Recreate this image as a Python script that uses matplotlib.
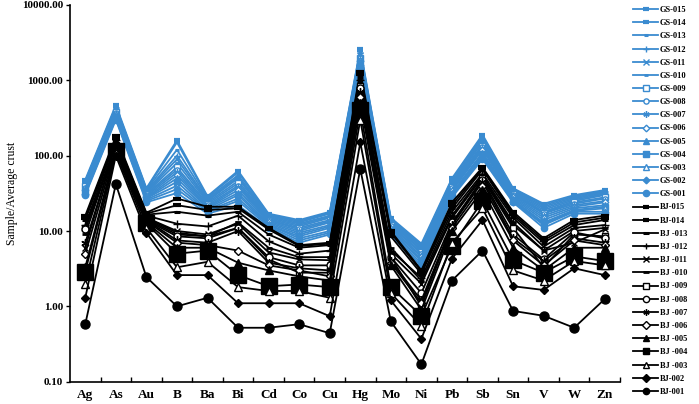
import matplotlib
matplotlib.use("Agg")
import matplotlib.pyplot as plt
from matplotlib.ticker import FixedLocator, FixedFormatter, NullLocator

plt.rcParams['font.family'] = ['Liberation Serif', 'DejaVu Serif']

elements = ["Ag", "As", "Au", "B", "Ba", "Bi", "Cd", "Co", "Cu", "Hg",
            "Mo", "Ni", "Pb", "Sb", "Sn", "V", "W", "Zn"]

gs_015 = [48, 470, 37, 160, 29, 63, 17, 14, 18, 2600, 15, 6.8, 50, 190, 37, 23, 30, 35]
gs_014 = [46, 450, 36, 150, 28, 60, 16.5, 13.5, 17.5, 2500, 14.5, 6.5, 48, 180, 36, 22, 29, 34]
gs_013 = [45, 430, 35, 120, 27, 55, 16, 13, 17, 2400, 14, 6.2, 45, 170, 35, 21, 28, 33]
gs_012 = [43, 420, 34, 100, 26, 52, 15.5, 12.5, 16, 2300, 13.5, 6.0, 43, 160, 34, 20, 27, 32]
gs_011 = [42, 400, 33, 90, 25, 50, 15, 12, 15.5, 2200, 13, 5.7, 42, 150, 33, 19, 26, 31]
gs_010 = [40, 390, 32, 80, 24, 46, 14.5, 11.5, 15, 2100, 12.5, 5.5, 40, 140, 32, 18, 25, 30]
gs_009 = [39, 380, 31, 70, 23, 43, 14, 11, 14, 2000, 12, 5.2, 38, 135, 31, 17.5, 24, 28]
gs_008 = [37, 370, 30, 65, 22, 40, 14, 10.5, 13.5, 1950, 11.5, 5.0, 37, 130, 30, 17, 23, 27]
gs_007 = [36, 360, 29, 60, 21, 38, 13.5, 10, 13, 1900, 11, 4.7, 35, 125, 29, 16, 22, 25]
gs_006 = [35, 350, 28, 55, 20.5, 35, 13, 9.5, 12, 1800, 10.5, 4.5, 34, 120, 28, 15, 21, 24]
gs_005 = [34, 340, 27.5, 50, 20, 32, 12.5, 9, 11.5, 1750, 10, 4.2, 32, 110, 27, 14, 20, 22]
gs_004 = [33, 330, 27, 45, 19, 30, 12, 8.5, 11, 1700, 10, 4.0, 31, 105, 26, 13, 19, 21]
gs_003 = [32, 320, 26, 40, 18.5, 27, 12, 8, 10, 1650, 9.5, 3.7, 30, 100, 25, 12.5, 18.5, 20]
gs_002 = [31, 310, 25, 36, 18, 25, 11.5, 7.5, 9.5, 1600, 9.2, 3.4, 29, 95, 24.5, 12, 18, 18]
gs_001 = [30, 300, 24, 32, 17, 22, 11, 7, 9, 1500, 9, 3.1, 28, 90, 24, 11, 17, 17]

bj_015 = [16, 180, 17.5, 27, 21, 21, 11, 6.5, 7, 1300, 10, 3.0, 24, 70, 18, 8, 14, 16]
bj_014 = [15, 170, 17, 22, 19, 20, 10.5, 6.3, 6.8, 1200, 9.5, 2.9, 22, 68, 17, 7.5, 13, 15]
bj_013 = [14, 165, 16.5, 18, 16, 18, 9, 6, 6.5, 1100, 8.5, 2.7, 20, 65, 16, 7, 12, 14]
bj_012 = [12, 160, 16, 12.5, 11.5, 16, 7.3, 5, 5.5, 1000, 5.5, 2.4, 18, 58, 15, 6.2, 11, 12]
bj_011 = [6, 150, 15, 10, 9, 12.5, 5.2, 4.2, 4.1, 950, 5, 2.0, 15, 52, 12, 5.5, 7, 10.5]
bj_010 = [9, 145, 15, 9.5, 8.5, 13, 6, 4.5, 4.5, 900, 6, 2.2, 16, 55, 13, 5.5, 10, 11]
bj_009 = [11, 140, 14.5, 9, 8.5, 11, 4.2, 2.8, 2.8, 850, 4.5, 1.0, 12, 50, 11, 3.3, 9, 8.5]
bj_008 = [10.5, 135, 14, 8.5, 8, 11, 4.5, 3.5, 3.5, 800, 4.5, 1.5, 13, 48, 9, 4.2, 9.6, 8]
bj_007 = [7, 130, 14, 7.5, 7, 10, 3.8, 3.2, 3.0, 700, 4, 1.2, 12, 45, 8, 4, 8, 7]
bj_006 = [5, 125, 13.5, 7, 6.5, 5.5, 3.5, 3.0, 2.5, 600, 3.8, 1.1, 11, 40, 7.5, 3.5, 7.5, 6.5]
bj_005 = [3.3, 120, 13, 6, 6, 3.8, 3.0, 2.5, 2.2, 500, 3.5, 0.9, 10, 35, 6, 3, 6, 6]
bj_004 = [2.9, 115, 12.6, 5.0, 5.5, 2.6, 1.85, 1.95, 1.8, 400, 1.8, 0.75, 6.3, 25, 4.1, 2.8, 4.6, 4.0]
bj_003 = [2.0, 110, 11, 3.3, 3.9, 1.8, 1.6, 1.6, 1.3, 300, 1.5, 0.55, 7, 20, 3.0, 2.2, 4.0, 3.5]
bj_002 = [1.3, 100, 9.5, 2.6, 2.6, 1.1, 1.1, 1.1, 0.74, 150, 1.2, 0.37, 4.3, 14, 1.85, 1.65, 3.2, 2.6]
bj_001 = [0.58, 42, 2.45, 1.0, 1.3, 0.52, 0.52, 0.58, 0.44, 67, 0.63, 0.17, 2.2, 5.5, 0.87, 0.75, 0.52, 1.25]

gs_series = [("GS-015", gs_015), ("GS-014", gs_014), ("GS-013", gs_013), ("GS-012", gs_012),
             ("GS-011", gs_011), ("GS-010", gs_010), ("GS-009", gs_009), ("GS-008", gs_008),
             ("GS-007", gs_007), ("GS-006", gs_006), ("GS-005", gs_005), ("GS-004", gs_004),
             ("GS-003", gs_003), ("GS-002", gs_002), ("GS-001", gs_001)]
bj_series = [("BJ-015", bj_015), ("BJ-014", bj_014), ("BJ -013", bj_013), ("BJ -012", bj_012),
             ("BJ -011", bj_011), ("BJ -010", bj_010), ("BJ -009", bj_009), ("BJ -008", bj_008),
             ("BJ -007", bj_007), ("BJ -006", bj_006), ("BJ -005", bj_005), ("BJ -004", bj_004),
             ("BJ -003", bj_003), ("BJ-002", bj_002), ("BJ-001", bj_001)]

y_ticks = [0.1, 1, 10, 100, 1000, 10000]
y_tick_labels = ["0.10", "1.00", "10.00", "100.00", "1000.00", "10000.00"]

# marker styles, same order as series (015 ... 001): (marker, size, filled, edge width)
styles = [("_", 6, True, 3.0), ("_", 6, True, 3.0), ("_", 4.5, True, 2.2), ("+", 6, True, 1.0),
          ("x", 5, True, 1.0), ("_", 4, True, 2.0), ("s", 5, False, 1.0), ("o", 5, False, 1.0),
          ((6, 2, 0), 6, True, 1.0), ("D", 4.5, False, 1.0), ("^", 5.5, True, 1.0),
          ("s", 5.5, True, 1.0), ("^", 5.5, False, 1.0), ("D", 4.5, True, 1.0), ("o", 6, True, 1.0)]

BLUE = "#3A8BD0"

fig = plt.figure(figsize=(6.99, 4.04), dpi=100)
ax = fig.add_axes([70 / 699, 1 - 381.7 / 404, 550 / 699, 376.7 / 404])

x = list(range(len(elements)))


def draw(series, color, is_bj):
    for (label, vals), (mk, ms, filled, mew) in zip(series, styles):
        if is_bj:
            if label.endswith("004"):
                ms = 11
            if label.endswith("001"):
                ms = 6.5
        else:
            ms = ms * 0.75
        ax.plot(x, vals, color=color, lw=1.3, marker=mk, markersize=ms,
                markerfacecolor=(color if filled else "white"),
                markeredgecolor=color, markeredgewidth=mew, label=label,
                clip_on=False)


draw(gs_series, BLUE, False)
draw(bj_series, "black", True)

ax.set_yscale("log")
ax.set_ylim(0.1, 10000)
ax.set_xlim(-0.5, len(elements) - 0.5)
ax.yaxis.set_major_locator(FixedLocator(y_ticks))
ax.yaxis.set_major_formatter(FixedFormatter(y_tick_labels))
ax.yaxis.set_minor_locator(NullLocator())
for lab in ax.get_yticklabels():
    lab.set_fontweight("bold")
    lab.set_fontsize(8)
ax.tick_params(axis="y", direction="out", length=3, width=1, pad=2)

ax.set_xticks(x)
ax.set_xticklabels(elements, fontsize=9.5, fontweight="bold")
ax.tick_params(axis="x", which="major", length=0, pad=5)
ax.set_xticks([i + 0.5 for i in range(len(elements))], minor=True)
ax.tick_params(axis="x", which="minor", direction="in", length=3.5, width=1)

for s in ["top", "right"]:
    ax.spines[s].set_visible(False)
for s in ["left", "bottom"]:
    ax.spines[s].set_linewidth(1.2)

ax.set_ylabel("Sample/Average crust", fontsize=8.5, labelpad=3)

leg = ax.legend(loc="upper left", bbox_to_anchor=(633 / 699, 1 - 6 / 404), bbox_transform=fig.transFigure,
                frameon=False, ncol=1, fontsize=6, handlelength=3.0, handletextpad=0.25,
                labelspacing=0.62, borderaxespad=0.0, borderpad=0.0)
for t in leg.get_texts():
    t.set_fontweight("bold")
for h in leg.legend_handles:
    if h.get_markersize() > 4.5:
        h.set_markersize(4.5)

fig.savefig("out.png", dpi=100)
